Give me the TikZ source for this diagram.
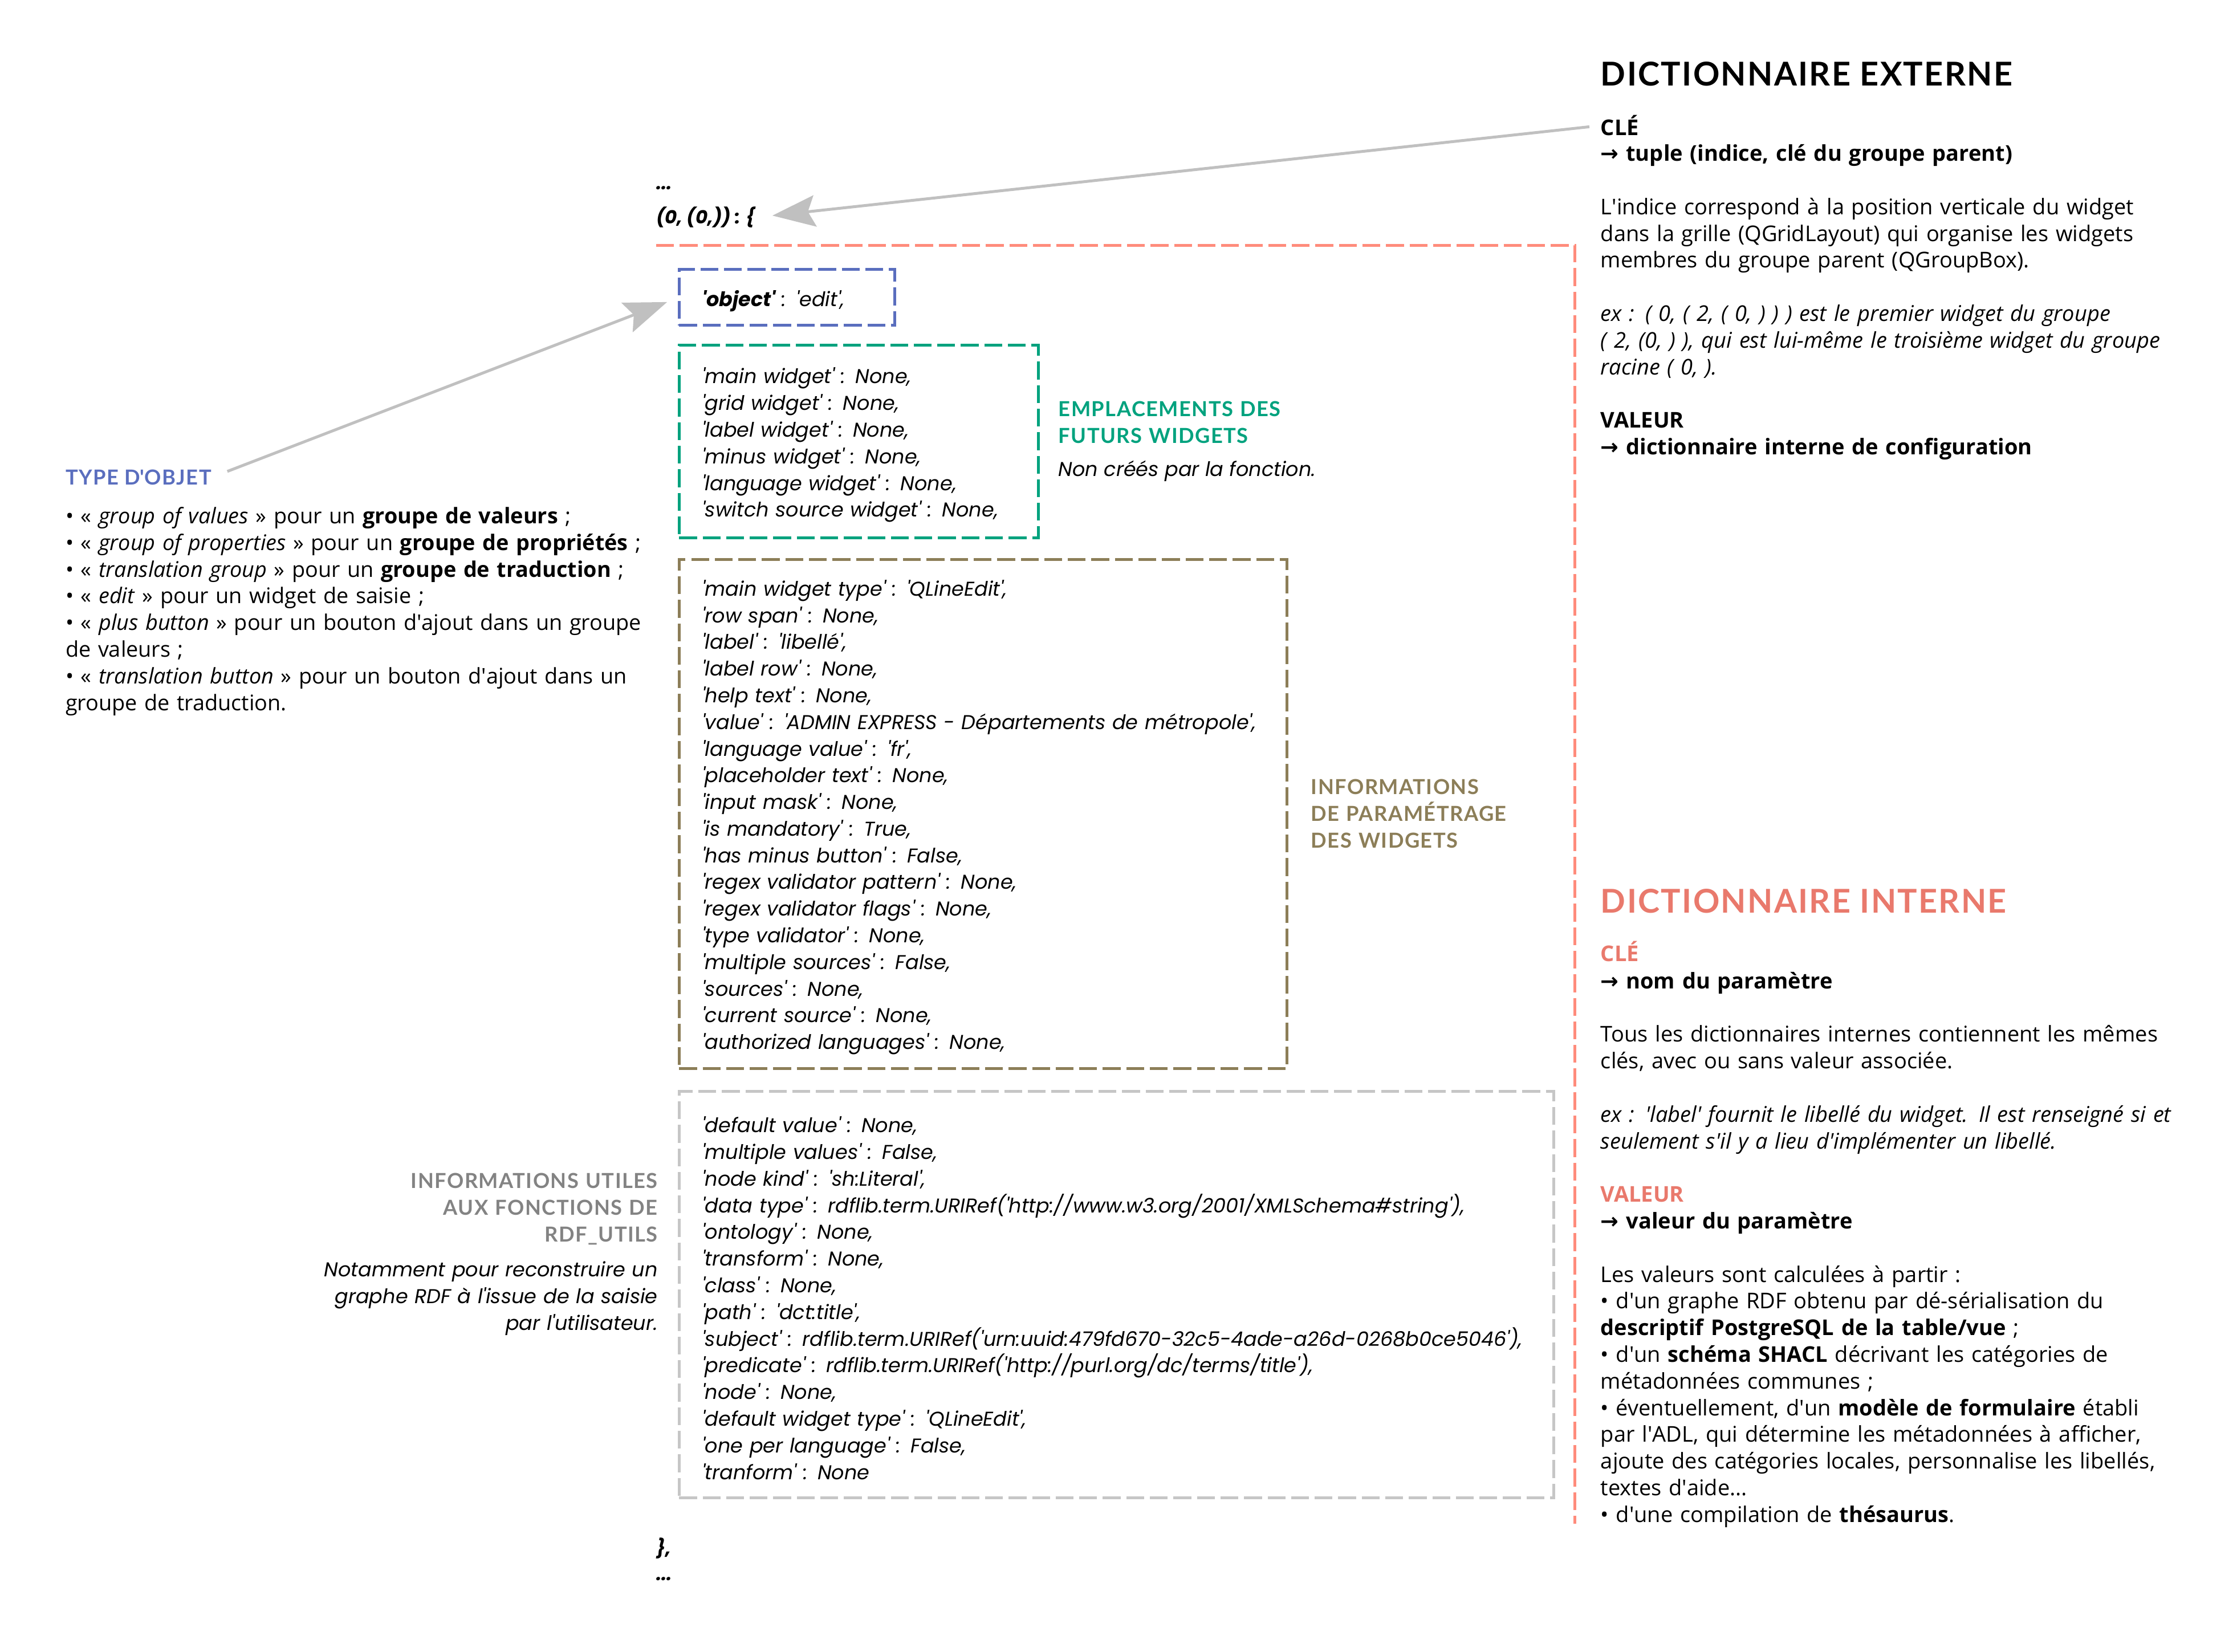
\documentclass[tikz,border=0pt]{standalone}
\usepackage{fontspec}
\setmainfont{Open Sans}
\newfontfamily\codefont{Poppins}
\newfontfamily\titrefont[LetterSpace=4]{Lato}
\newfontfamily\symbfont{DejaVu Sans}
\usetikzlibrary{arrows.meta}

\definecolor{saumon}{HTML}{FF8C7C}
\definecolor{saumontxt}{HTML}{E9796C}
\definecolor{bleuobj}{HTML}{5A6EBE}
\definecolor{vertwid}{HTML}{00A27E}
\definecolor{oliveparam}{HTML}{8C7E58}
\definecolor{grisbox}{HTML}{C6C6C6}
\definecolor{grislabel}{HTML}{838383}
\definecolor{grisfleche}{HTML}{C0C0C0}

\newcommand\q[1]{\textquotesingle#1\textquotesingle}
\newcommand\ap{\textquotesingle}
\newcommand\fl{{\symbfont\bfseries →}}

\begin{document}
\begin{tikzpicture}[x=1pt,y=-1pt,
   every node/.style={inner sep=0pt,outer sep=0pt,anchor=base west,align=left},
   corps/.style={font=\fontsize{15.2}{18.7}\selectfont,text width=440pt},
   code/.style={font=\codefont\itshape\fontsize{14}{18.7}\selectfont},
   codegras/.style={font=\codefont\bfseries\itshape\fontsize{13}{18.7}\selectfont},
   liste/.style={font=\fontsize{15.1}{18.7}\selectfont,text width=430pt},
   etiq/.style={font=\titrefont\bfseries\fontsize{14.5}{18.7}\selectfont},
   grand/.style={font=\titrefont\bfseries\fontsize{23}{28}\selectfont},
   pointille/.style={line width=2pt,dash pattern=on 12.5pt off 4pt},
   boite/.style={code,draw,pointille,anchor=north west,inner xsep=16pt,text height=16pt},
   fleche/.style={draw=grisfleche,line width=2pt,
                  -{Stealth[length=30pt,width=22pt,inset=5pt]}}]

\useasboundingbox (0,0) rectangle (1568,1158);

% dictionnaire externe
\node[grand] (extTitre) at (1122,60) {DICTIONNAIRE EXTERNE};
\node[corps,font=\bfseries\fontsize{15.2}{18.7}\selectfont] (extCle) at (1122,95) {CLÉ};
\node[corps] (extTexte) at (1122,113) {\textbf{\fl{} tuple (indice, clé du groupe parent)}\\[18.7pt]
   L\ap{}indice correspond à la position verticale du widget\\
   dans la grille (QGridLayout) qui organise les widgets\\
   membres du groupe parent (QGroupBox).\\[18.7pt]
   \textit{ex : ( 0, ( 2, ( 0, ) ) ) est le premier widget du groupe}\\
   \textit{( 2, (0, ) ), qui est lui-même le troisième widget du groupe}\\
   \textit{racine ( 0, ).}\\[18.7pt]
   \textbf{VALEUR}\\
   \textbf{\fl{} dictionnaire interne de configuration}};

% dictionnaire interne
\node[grand,text=saumontxt] (intTitre) at (1122,640) {DICTIONNAIRE INTERNE};
\node[corps,text=saumontxt,font=\bfseries\fontsize{15.2}{18.7}\selectfont] (intCle) at (1122,674) {CLÉ};
\node[corps] (intTexte) at (1122,693) {\textbf{\fl{} nom du paramètre}\\[18.7pt]
   Tous les dictionnaires internes contiennent les mêmes\\
   clés, avec ou sans valeur associée.\\[18.7pt]
   \textit{ex : \q{label} fournit le libellé du widget. Il est renseigné si et}\\
   \textit{seulement s\ap{}il y a lieu d\ap{}implémenter un libellé.}\\[18.7pt]
   \textcolor{saumontxt}{\textbf{VALEUR}}\\
   \textbf{\fl{} valeur du paramètre}\\[18.7pt]
   Les valeurs sont calculées à partir :\\
   • d\ap{}un graphe RDF obtenu par dé-sérialisation du\\
   \textbf{descriptif PostgreSQL de la table/vue} ;\\
   • d\ap{}un \textbf{schéma SHACL} décrivant les catégories de\\
   métadonnées communes ;\\
   • éventuellement, d\ap{}un \textbf{modèle de formulaire} établi\\
   par l\ap{}ADL, qui détermine les métadonnées à afficher,\\
   ajoute des catégories locales, personnalise les libellés,\\
   textes d\ap{}aide...\\
   • d\ap{}une compilation de \textbf{thésaurus}.};

\draw[saumon,pointille] (460,172) -- (1104,172) -- (1104,1068);

% le dictionnaire
\node[codegras] (pointsHaut) at (460,133) {...};
\node[codegras] (racine) at (460,157) {(0, (0,)) : \{};
\node[codegras] (accolade) at (460,1090) {\},};
\node[codegras] (pointsBas) at (460,1108) {...};

\node[boite,draw=bleuobj,text width=119pt,minimum height=39pt] (objet) at (476,189)
   {\textbf{\q{object}} : \q{edit},};

\node[boite,draw=vertwid,text width=220pt,minimum height=135pt] (widgets) at (476,242)
   {\q{main widget} : None,\\
    \q{grid widget} : None,\\
    \q{label widget} : None,\\
    \q{minus widget} : None,\\
    \q{language widget} : None,\\
    \q{switch source widget} : None,};

\node[boite,draw=oliveparam,text width=394pt,minimum height=357pt] (params) at (476,392)
   {\q{main widget type} : \q{QLineEdit},\\
    \q{row span} : None,\\
    \q{label} : \q{libellé},\\
    \q{label row} : None,\\
    \q{help text} : None,\\
    \q{value} : \q{ADMIN EXPRESS - Départements de métropole},\\
    \q{language value} : \q{fr},\\
    \q{placeholder text} : None,\\
    \q{input mask} : None,\\
    \q{is mandatory} : True,\\
    \q{has minus button} : False,\\
    \q{regex validator pattern} : None,\\
    \q{regex validator flags} : None,\\
    \q{type validator} : None,\\
    \q{multiple sources} : False,\\
    \q{sources} : None,\\
    \q{current source} : None,\\
    \q{authorized languages} : None,};

\node[boite,draw=grisbox,text width=581pt,minimum height=285pt] (rdf) at (476,765)
   {\q{default value} : None,\\
    \q{multiple values} : False,\\
    \q{node kind} : \q{sh:Literal},\\
    \q{data type} : rdflib.term.URIRef(\q{http://www.w3.org/2001/XMLSchema\#string}),\\
    \q{ontology} : None,\\
    \q{transform} : None,\\
    \q{class} : None,\\
    \q{path} : \q{dct:title},\\
    \q{subject} : rdflib.term.URIRef(\q{urn:uuid:479fd670-32c5-4ade-a26d-0268b0ce5046}),\\
    \q{predicate} : rdflib.term.URIRef(\q{http://purl.org/dc/terms/title}),\\
    \q{node} : None,\\
    \q{default widget type} : \q{QLineEdit},\\
    \q{one per language} : False,\\
    \q{tranform} : None};

% etiquettes
\node[etiq,text=vertwid,text width=250pt] (widgetsTitre) at (742,292) {EMPLACEMENTS DES\\FUTURS WIDGETS};
\node[code] (widgetsNote) at (742,334) {Non créés par la fonction.};

\node[etiq,text=oliveparam,text width=250pt] (paramsTitre) at (919,557) {INFORMATIONS\\DE PARAMÉTRAGE\\DES WIDGETS};

\node[etiq,text=grislabel,text width=250pt,anchor=base east,align=right] (rdfTitre) at (461,833)
   {INFORMATIONS UTILES\\AUX FONCTIONS DE\\RDF\_UTILS};
\node[code,text width=300pt,anchor=base east,align=right] (rdfNote) at (461,895)
   {Notamment pour reconstruire un\\graphe RDF à l\ap{}issue de la saisie\\par l\ap{}utilisateur.};

\node[etiq,text=bleuobj] (typeTitre) at (46,340) {TYPE D\ap{}OBJET};
\node[liste] (typeListe) at (46,367)
   {• « \textit{group of values} » pour un \textbf{groupe de valeurs} ;\\
    • « \textit{group of properties} » pour un \textbf{groupe de propriétés} ;\\
    • « \textit{translation group} » pour un \textbf{groupe de traduction} ;\\
    • « \textit{edit} » pour un widget de saisie ;\\
    • « \textit{plus button} » pour un bouton d\ap{}ajout dans un groupe\\
    de valeurs ;\\
    • « \textit{translation button} » pour un bouton d\ap{}ajout dans un\\
    groupe de traduction.};

\draw[fleche,shorten <=8pt,shorten >=12pt] (extCle.west) -- (racine.east);
\draw[fleche,shorten <=12pt,shorten >=9pt] (typeTitre.east) -- (objet.west);

\end{tikzpicture}
\end{document}
